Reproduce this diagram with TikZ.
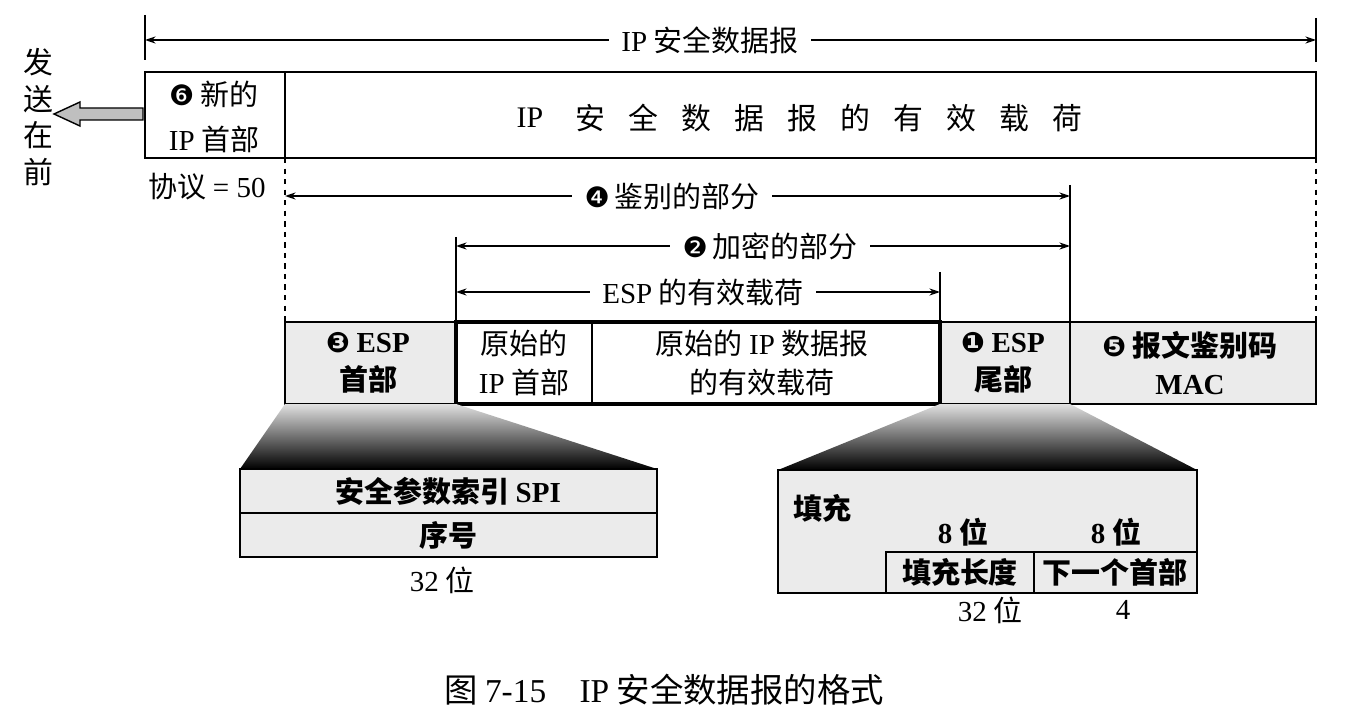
\documentclass[tikz,border=0pt]{standalone}
\usepackage{fontspec}
\setmainfont{Noto Sans CJK SC}
\newfontfamily\en{Liberation Serif}
\newfontfamily\dingbat{DejaVu Sans}
\usetikzlibrary{arrows.meta}
\newcommand{\fsz}[2]{\fontsize{#1pt}{#2pt}\selectfont}
\newcommand{\cn}[1]{{\dingbat\fsz{16}{16}#1}}

\tikzset{
  dim/.style={line width=1pt,<->},
  bar/.style={line width=1pt},
  box/.style={draw,line width=1.3pt},
  shaded/.style={box,fill=black!8},
  lbl/.style={fill=white,inner xsep=7pt,inner ysep=0pt,font=\fsz{16.5}{16.5}},
  txt/.style={font=\fsz{16.5}{22},align=center},
  btxt/.style={font=\bfseries\fsz{16.5}{22},align=center},
}

\begin{document}
\begin{tikzpicture}[x=0.02cm,y=-0.02cm,>={Stealth[length=6pt,width=4pt]}]
  \useasboundingbox (0,0) rectangle (1346,716);
  % whole datagram
  \coordinate (dgl) at (145,40);
  \coordinate (dgr) at (1316,40);
  \draw[bar] (145,15) -- (145,60);
  \draw[bar] (1316,18) -- (1316,62);
  \draw[dim] (dgl) -- (dgr);
  \node[lbl] (dglbl) at (710,40) {{\en IP} 安全数据报};

  % new header and payload
  \draw[box] (145,72) rectangle (1316,158);
  \draw[box] (285,72) -- (285,158);
  \node[txt,font=\fsz{16.5}{26}] (newhdr) at (214,117) {\cn{❻} 新的\\{\en IP} 首部};
  \node[font=\fsz{17}{17}] (pl0) at (530,118) {\en IP};
  \foreach \ch [count=\i] in {安,全,数,据,报,的,有,效,载,荷}
    \node[font=\fsz{17}{17}] (pl\i) at (537+53*\i,118) {\ch};

  % sent first
  \node[txt,font=\fsz{17}{21}] (sendfirst) at (38,117) {发\\送\\在\\前};
  \draw[line width=0.8pt,fill=black!25] (143,108) -- (80,108) -- (80,102) -- (54,114)
      -- (80,126) -- (80,120) -- (143,120) -- cycle;
  \node[font=\fsz{16.5}{16.5}] (proto) at (207,187) {协议 {\en = 50}};

  % dashed guides
  \draw[bar,dashed] (285,158) -- (285,322);
  \draw[bar,dashed] (1316,158) -- (1316,322);

  % authenticated part
  \coordinate (authl) at (285,196);
  \coordinate (authr) at (1070,196);
  \draw[bar] (1070,185) -- (1070,322);
  \draw[dim] (authl) -- (authr);
  \node[lbl] (authlbl) at (672,196) {\cn{❹}\,鉴别的部分};

  % encrypted part
  \coordinate (encl) at (456,246);
  \coordinate (encr) at (1070,246);
  \draw[bar] (456,237) -- (456,322);
  \draw[dim] (encl) -- (encr);
  \node[lbl] (enclbl) at (770,246) {\cn{❷}\,加密的部分};

  % ESP payload
  \coordinate (espl) at (456,292);
  \coordinate (espr) at (940,292);
  \draw[bar] (940,272) -- (940,322);
  \draw[dim] (espl) -- (espr);
  \node[lbl] (esplbl) at (703,292) {{\en ESP} 的有效载荷};

  % ESP packet
  \draw[shaded] (285,322) rectangle (456,404);
  \draw[shaded] (940,322) rectangle (1316,404);
  \draw[box] (1070,322) -- (1070,404);
  \draw[box,line width=1.8pt] (456,322) rectangle (940,404);
  \draw[box] (592,322) -- (592,404);
  \node[btxt] (esphdr) at (368,363) {\cn{❸} {\en ESP}\\首部};
  \node[txt] (orighdr) at (524,363) {原始的\\{\en IP} 首部};
  \node[txt] (origpl) at (762,363) {原始的 {\en IP} 数据报\\的有效载荷};
  \node[btxt] (esptrl) at (1003,363) {\cn{❶} {\en ESP}\\尾部};
  \node[btxt] (mac) at (1190,363) {\cn{❺} 报文鉴别码\\{\en MAC}};

  % zoom funnels
  \shade[top color=black!12,bottom color=black] (285,404) -- (456,404) -- (657,469)
      -- (240,469) -- cycle;
  \shade[top color=black!12,bottom color=black] (940,404) -- (1070,404) -- (1197,470)
      -- (778,470) -- cycle;

  % ESP header fields
  \draw[shaded] (240,469) rectangle (657,557);
  \draw[box] (240,513) -- (657,513);
  \node[btxt] (spi) at (448,491) {安全参数索引 {\en SPI}};
  \node[btxt] (seq) at (448,535) {序号};
  \node[txt] (bitsa) at (442,580) {{\en 32} 位};

  % ESP trailer fields
  \draw[shaded] (778,470) rectangle (1197,593);
  \draw[box] (886,593) |- (1197,552);
  \draw[box] (1034,552) -- (1034,593);
  \node[btxt] (pad) at (822,508) {填充};
  \node[btxt] (eighta) at (963,532) {{\en 8} 位};
  \node[btxt] (eightb) at (1116,532) {{\en 8} 位};
  \node[btxt] (padlen) at (960,572) {填充长度};
  \node[btxt] (nexthdr) at (1115,572) {下一个首部};
  \node[txt] (bitsb) at (990,610) {{\en 32} 位};
  \node[txt] (four) at (1123,610) {\en 4};

  % caption
  \node[font=\fsz{19}{19}] (caption) at (664,690) {图 {\en 7-15}\quad{\en IP} 安全数据报的格式};
\end{tikzpicture}
\end{document}
